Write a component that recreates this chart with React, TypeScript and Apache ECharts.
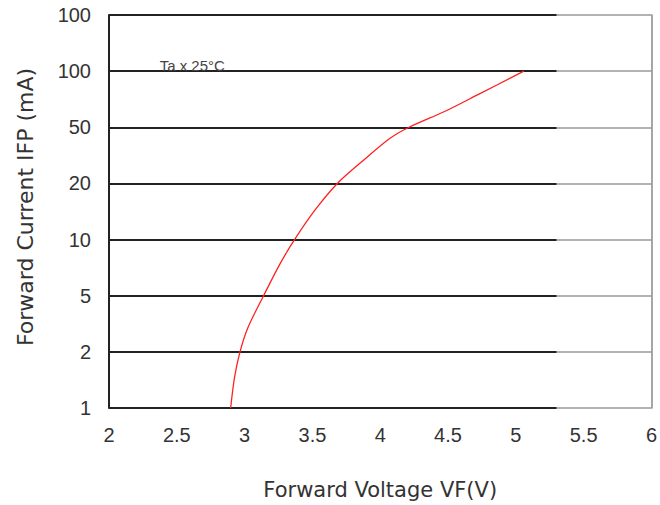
import React, { useEffect, useRef } from "react";
import * as echarts from "echarts";

const yTickLabels = ["1", "2", "5", "10", "20", "50", "100", "100"];
const xMin = 2;
const xMax = 6;
const xStep = 0.5;
// Forward voltage (V) vs. position on the current scale (index into yTickLabels)
const voltage = [2.897, 2.926, 2.966, 3.024, 3.14, 3.257, 3.368, 3.527, 3.684, 3.87, 4.07, 4.213, 4.483, 4.728, 5.059];
const currentPos = [0, 0.55, 1, 1.43, 2, 2.55, 3, 3.55, 4, 4.4, 4.8, 5, 5.29, 5.59, 6];
const gridBlackEnd = 5.3;
const annotation = "Ta x 25°C";
const annotationPos = [2.37, 6];
const yTitle = "Forward Current IFP (mA)";
const xTitle = "Forward Voltage VF(V)";

export default function App() {
  const ref = useRef<HTMLDivElement>(null);
  useEffect(() => {
    if (!ref.current) return;
    const chart = echarts.init(ref.current, null, { renderer: "svg" });
    const font = "'Liberation Sans', Arial, Helvetica, sans-serif";
    const titleFont = "'DejaVu Sans', sans-serif";
    const curve = voltage.map((v, i) => [v, currentPos[i]]);
    const blackLines = yTickLabels.map((_, i) => [
      { coord: [xMin, i] },
      { coord: [gridBlackEnd, i] },
    ]);
    chart.setOption({
      animation: false,
      grid: { left: 109, right: 7, top: 15, bottom: 94, show: false },
      graphic: [
        {
          type: "text",
          x: 25,
          y: 207,
          rotation: Math.PI / 2,
          style: {
            text: yTitle,
            fill: "#333",
            font: `22px ${titleFont}`,
            align: "center",
            verticalAlign: "middle",
          },
        },
      ],
      xAxis: {
        type: "value",
        min: xMin,
        max: xMax,
        interval: xStep,
        axisLine: { show: false },
        axisTick: { show: false },
        splitLine: { show: false },
        axisLabel: { color: "#333", fontSize: 20, fontFamily: font, margin: 17 },
        name: xTitle,
        nameLocation: "middle",
        nameGap: 71,
        nameTextStyle: { color: "#333", fontSize: 21, fontFamily: titleFont },
      },
      yAxis: [
        {
          type: "value",
          min: 0,
          max: yTickLabels.length - 1,
          interval: 1,
          axisLine: { show: true, lineStyle: { color: "#222", width: 2 } },
          axisTick: { show: false },
          splitLine: { show: true, lineStyle: { color: "#999", width: 1.5 } },
          axisLabel: {
            color: "#333",
            fontSize: 20,
            fontFamily: font,
            margin: 18,
            formatter: (v: number) => yTickLabels[Math.round(v)] ?? "",
          },
        },
        {
          type: "value",
          position: "right",
          min: 0,
          max: yTickLabels.length - 1,
          interval: 1,
          axisLine: { show: true, lineStyle: { color: "#888", width: 1.5 } },
          axisTick: { show: false },
          axisLabel: { show: false },
          splitLine: { show: false },
        },
      ],
      series: [
        {
          type: "line",
          data: curve,
          smooth: 0.3,
          symbol: "none",
          lineStyle: { color: "#ff2020", width: 1.3 },
          z: 5,
          markLine: {
            silent: true,
            symbol: ["none", "none"],
            label: { show: false },
            lineStyle: { color: "#222", width: 2, type: "solid" },
            data: blackLines,
            z: 3,
          },
          markPoint: {
            silent: true,
            symbol: "circle",
            symbolSize: 1,
            itemStyle: { color: "rgba(0,0,0,0)" },
            data: [
              {
                coord: annotationPos,
                label: {
                  show: true,
                  formatter: annotation,
                  color: "#444",
                  fontSize: 15,
                  fontFamily: font,
                  position: "right",
                  distance: 0,
                  offset: [0, -6],
                },
              },
            ],
          },
        },
      ],
    });
    return () => chart.dispose();
  }, []);
  return (
    <div
      ref={ref}
      style={{ position: "absolute", left: 0, top: 0, width: 660, height: 505 }}
    />
  );
}
